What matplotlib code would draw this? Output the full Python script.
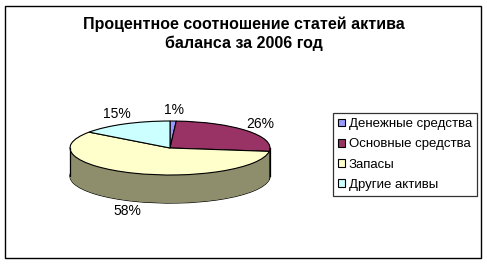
import numpy as np
import matplotlib
matplotlib.use("Agg")
import matplotlib.pyplot as plt
from matplotlib.patches import Rectangle

plt.rcParams['font.family'] = ['Liberation Sans', 'DejaVu Sans']

# data
categories = ['Денежные средства', 'Основные средства', 'Запасы', 'Другие активы']
shares = [1, 26, 58, 15]
top_colors = ['#9999FF', '#993366', '#FFFFCC', '#CCFFFF']
side_colors = ['#4D4D80', '#4D1A33', '#8E8E6C', '#668080']
title = 'Процентное соотношение статей актива\nбаланса за 2006 год'

W, H = 487, 264
fig = plt.figure(figsize=(W / 100, H / 100), dpi=100)
fig.patch.set_facecolor('white')

# pie geometry in pixels (image coords): centre, radii, depth
cx, cy, rx, ry, depth_px = 170, 148, 100, 27, 28
depth = depth_px / ry

ax = fig.add_axes([0, 0, 1, 1])

# bottom outline
ax.pie(shares, colors=side_colors, startangle=90, counterclock=False,
       center=(0, -depth), wedgeprops=dict(edgecolor='black', linewidth=0.9))
# side wall built from stacked layers
for k in np.linspace(depth, 0, 60):
    ax.pie(shares, colors=side_colors, startangle=90, counterclock=False,
           center=(0, -k), wedgeprops=dict(linewidth=0))
ax.plot([-1, -1], [0, -depth], color='black', lw=0.9)
ax.plot([1, 1], [0, -depth], color='black', lw=0.9)

# top face
wedges, _ = ax.pie(shares, colors=top_colors, startangle=90, counterclock=False,
                   wedgeprops=dict(edgecolor='black', linewidth=0.8))

# percent labels
for w, v in zip(wedges, shares):
    mid = np.deg2rad((w.theta1 + w.theta2) / 2)
    x = 1.17 * np.cos(mid)
    y = 1.4 * np.sin(mid)
    if y < 0:
        y -= depth
    ax.text(x, y, f'{v}%', ha='center', va='center', fontsize=10)

ax.set_aspect('auto')
ax.set_xlim(-cx / rx, (W - cx) / rx)
ax.set_ylim(-(H - cy) / ry, cy / ry)
ax.axis('off')

fig.text(0.5, 1 - 34 / H, title, ha='center', va='center',
         fontsize=11.5, fontweight='bold', linespacing=1.3)

leg = fig.legend(wedges, categories, loc='upper left',
                 bbox_to_anchor=(333 / W, 1 - 113 / H), fontsize=9.5,
                 frameon=True, fancybox=False, edgecolor='black',
                 handlelength=0.5, handleheight=0.5, handletextpad=0.3,
                 labelspacing=0.62, borderpad=0.4, borderaxespad=0)
leg.get_frame().set_linewidth(0.9)

fig.patches.append(Rectangle((5 / W, 6 / H), 476 / W, 252 / H,
                             transform=fig.transFigure, fill=False,
                             edgecolor='black', linewidth=1))

fig.savefig('out.png', dpi=100)
